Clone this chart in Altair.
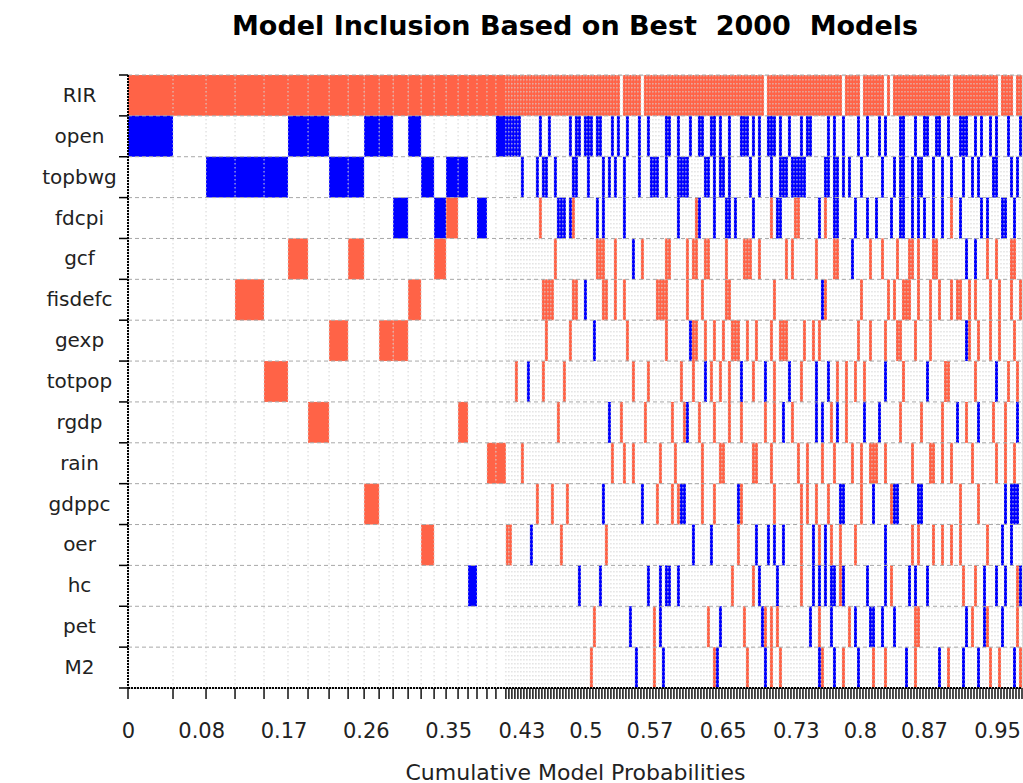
import altair as alt
import pandas as pd

variables = ["RIR", "open", "topbwg", "fdcpi", "gcf", "fisdefc", "gexp", "totpop",
             "rgdp", "rain", "gdppc", "oer", "hc", "pet", "M2"]

# posterior model probabilities of the 21 leading (wide) models
lead_pmp = [0.0492, 0.0361, 0.0317, 0.0317, 0.0262, 0.0219, 0.0230, 0.0208, 0.0175,
            0.0164, 0.0153, 0.0164, 0.0142, 0.0142, 0.0131, 0.0131, 0.0109, 0.0098,
            0.0109, 0.0098, 0.0109]

# inclusion/sign of each variable in the leading models (+ positive, - negative, . excluded)
lead_signs = {
    "RIR":     "+++++++++++++++++++++",
    "open":    "-....--..--.-.......-",
    "topbwg":  "..---..--....-.--....",
    "fdcpi":   "...........-..-+..-..",
    "gcf":     ".....+..+.....+......",
    "fisdefc": "...+........+........",
    "gexp":    ".......+..++.........",
    "totpop":  "....+................",
    "rgdp":    "......+.........+....",
    "rain":    "...................++",
    "gdppc":   ".........+...........",
    "oer":     ".............+.......",
    "hc":      ".................-...",
    "pet":     ".....................",
    "M2":      ".....................",
}

# the remaining ~1980 small models, aggregated into narrow columns
dense_count = 172
dense_pmp = 0.00328
rir_dense_excluded = [38, 45, 86, 112, 118, 126, 128, 148, 164, 169]

dense_pos = {
    "open": [],
    "topbwg": [],
    "fdcpi": [11, 22, 63, 88, 96, 97, 106, 148],
    "gcf": [16, 30, 31, 32, 36, 45, 53, 54, 60, 62, 63, 66, 67, 73, 79, 80, 81, 84, 93, 95,
            103, 109, 110, 121, 125, 130, 134, 135, 137, 142, 143, 160, 163, 168, 169],
    "fisdefc": [12, 13, 14, 15, 22, 23, 32, 33, 36, 39, 50, 51, 52, 53, 60, 65, 73, 74, 89,
                106, 118, 127, 129, 132, 133, 134, 137, 141, 144, 148, 150, 151, 154, 156,
                161, 164, 168, 171],
    "gexp": [13, 21, 40, 53, 62, 63, 66, 69, 72, 75, 76, 77, 80, 83, 88, 91, 92, 93, 99, 102,
             104, 117, 121, 126, 130, 131, 136, 141, 154, 157, 161, 164, 169],
    "totpop": [3, 12, 19, 42, 47, 58, 62, 68, 71, 74, 82, 89, 98, 110, 113, 116, 119, 132,
               146, 147, 156, 167, 170],
    "rgdp": [17, 38, 46, 55, 59, 64, 69, 74, 78, 86, 89, 95, 108, 113, 131, 138, 145, 153,
             162, 166],
    "rain": [5, 35, 39, 42, 51, 56, 65, 71, 72, 82, 83, 88, 97, 100, 105, 109, 115, 118, 121,
             122, 123, 126, 135, 141, 142, 145, 148, 155, 163, 166, 169],
    "gdppc": [10, 15, 20, 50, 55, 57, 65, 69, 78, 89, 98, 100, 103, 107, 118, 128, 151, 157],
    "oer": [0, 1, 18, 33, 77, 98, 104, 108, 111, 116, 135, 137, 142, 145, 148, 151, 160],
    "hc": [75, 82, 98, 111, 128, 152, 156, 170],
    "pet": [29, 49, 67, 79, 86, 88, 90, 104, 114, 136, 137, 155, 160, 170],
    "M2": [28, 49, 69, 80, 88, 91, 105, 112, 122, 126, 136, 147, 161, 164, 171],
}

dense_neg = {
    "open": [0, 1, 2, 3, 4, 11, 14, 21, 23, 24, 26, 27, 28, 30, 31, 35, 37, 40, 44, 47, 53,
             54, 57, 61, 64, 65, 68, 69, 71, 74, 78, 79, 80, 82, 84, 87, 88, 89, 91, 94, 98,
             100, 101, 107, 109, 112, 117, 120, 124, 126, 131, 132, 136, 139, 140, 143, 144,
             147, 151, 152, 153, 156, 158, 161, 163, 167, 171],
    "topbwg": [5, 10, 12, 13, 16, 22, 23, 27, 32, 34, 36, 39, 44, 48, 49, 50, 53, 57, 58, 59,
               60, 66, 67, 69, 71, 72, 74, 81, 84, 88, 91, 92, 93, 95, 96, 97, 98, 99, 106,
               107, 109, 110, 112, 114, 118, 125, 129, 131, 132, 135, 137, 138, 142, 145,
               148, 152, 155, 157, 162, 163, 168, 170],
    "fdcpi": [17, 18, 19, 21, 30, 32, 39, 57, 64, 69, 73, 74, 76, 82, 90, 91, 104, 109, 110,
              116, 120, 123, 128, 131, 132, 135, 137, 139, 142, 145, 151, 158, 160, 165,
              166, 169],
    "gcf": [42, 115, 153, 156],
    "fisdefc": [26, 105],
    "gexp": [29, 61, 153],
    "totpop": [7, 66, 78, 86, 94, 103, 107, 126, 140, 163],
    "rgdp": [34, 60, 92, 103, 105, 110, 119, 124, 150, 157, 170],
    "rain": [],
    "gdppc": [32, 45, 58, 59, 77, 111, 112, 122, 129, 130, 137, 138, 166, 168, 169, 170],
    "oer": [8, 62, 68, 83, 87, 89, 92, 102, 106, 126, 165, 168],
    "hc": [24, 31, 47, 51, 53, 54, 57, 84, 90, 102, 104, 106, 108, 109, 112, 120, 126, 134,
           136, 140, 159, 163, 166, 171],
    "pet": [41, 51, 71, 85, 101, 108, 116, 121, 122, 125, 129, 153, 159, 165],
    "M2": [43, 52, 70, 86, 104, 109, 117, 133, 144, 152, 157, 169],
}

x_labels = [0, 0.08, 0.17, 0.26, 0.35, 0.43, 0.5, 0.57, 0.65, 0.73, 0.8, 0.87, 0.95]
title_text = "Model Inclusion Based on Best\u00a0\u00a02000\u00a0\u00a0Models"

# ---- build tables ----
widths = list(lead_pmp) + [dense_pmp] * dense_count
bounds = [0.0]
for w in widths:
    bounds.append(bounds[-1] + w)
total = bounds[-1]
n_lead = len(lead_pmp)

cells = []
for r, v in enumerate(variables):
    for m, ch in enumerate(lead_signs[v]):
        if ch in "+-":
            cells.append({"x0": bounds[m], "x1": bounds[m + 1], "r0": r, "r1": r + 1, "sign": ch})
    if v == "RIR":
        pos = [i for i in range(dense_count) if i not in rir_dense_excluded]
        neg = []
    else:
        pos = dense_pos[v]
        neg = dense_neg[v]
    for lst, ch in ((pos, "+"), (neg, "-")):
        for i in lst:
            m = n_lead + i
            cells.append({"x0": bounds[m], "x1": bounds[m + 1], "r0": r, "r1": r + 1, "sign": ch})
cells = pd.DataFrame(cells)
bdf = pd.DataFrame({"x0": bounds})
rows_df = pd.DataFrame({"r0": list(range(len(variables) + 1))})

W, H = 894, 613
FONT = "DejaVu Sans"
xscale = alt.Scale(domain=[0, total], nice=False, zero=False)
yscale = alt.Scale(domain=[0, len(variables)], reverse=True, nice=False, zero=False)
label_arr = "[" + ",".join("'" + v + "'" for v in variables) + "]"

xaxis = alt.Axis(values=x_labels, format=".2~f", ticks=False, domain=False, grid=False,
                 labelFontSize=21, labelFont=FONT, labelPadding=32, labelColor="#222",
                 title="Cumulative Model Probabilities", titleFont=FONT,
                 titleFontSize=22, titleFontWeight="normal", titlePadding=21,
                 titleColor="#222", labelFlush=False)
yaxis = alt.Axis(values=[i + 0.5 for i in range(len(variables))],
                 labelExpr=label_arr + "[floor(datum.value)]",
                 ticks=False, domain=False, grid=False, labelFontSize=20,
                 labelFont=FONT, labelPadding=49, labelAlign="center",
                 labelColor="#222", title=None)

X = lambda: alt.X("x0:Q", scale=xscale, axis=xaxis)
Y = lambda: alt.Y("r0:Q", scale=yscale, axis=yaxis)

rects = alt.Chart(cells).mark_rect(strokeWidth=0).encode(
    x=X(), x2="x1:Q", y=Y(), y2="r1:Q",
    color=alt.Color("sign:N", scale=alt.Scale(domain=["+", "-"], range=["#FF6347", "#0000FF"]),
                    legend=None),
)

vgrid = alt.Chart(bdf).mark_rule(color="#d4d4d4", strokeDash=[1.5, 2.5], strokeWidth=1).encode(
    x=X(), y=alt.value(0), y2=alt.value(H))

hgrid = alt.Chart(rows_df).mark_rule(color="#a8a8a8", strokeDash=[4, 3], strokeWidth=1).encode(
    y=Y(), x=alt.value(0), x2=alt.value(W))

yticks = alt.Chart(rows_df).mark_rule(color="black", strokeWidth=1.5).encode(
    y=Y(), x=alt.value(-9), x2=alt.value(0))

xticks = alt.Chart(bdf).mark_rule(color="black", strokeWidth=1.4).encode(
    x=X(), y=alt.value(H), y2=alt.value(H + 11))

yline = alt.Chart(rows_df).mark_rule(color="black", strokeDash=[2, 1], strokeWidth=1.5).encode(
    x=alt.value(0), y=alt.value(0), y2=alt.value(H))

xline = alt.Chart(rows_df).mark_rule(color="black", strokeDash=[2, 1], strokeWidth=1.5).encode(
    x=alt.value(0), x2=alt.value(W), y=alt.value(H))

chart = alt.layer(rects, vgrid, hgrid, yticks, xticks, yline, xline).properties(
    width=W, height=H,
    title=alt.TitleParams(title_text, font=FONT, fontSize=27, fontWeight="bold",
                          color="black", anchor="middle", offset=33),
    padding={"left": 128, "top": 75, "right": 1, "bottom": 95},
    autosize="none",
).configure_view(stroke=None).configure(background="white")

chart.save("out.html", embed_options={"renderer": "svg", "actions": False})
